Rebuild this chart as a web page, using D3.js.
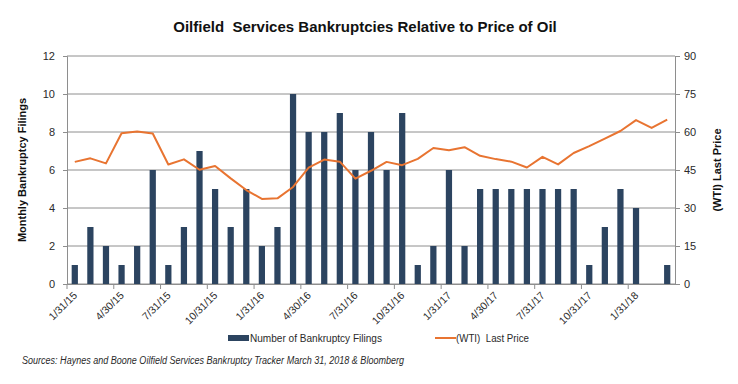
<!DOCTYPE html>
<html>
<head>
<meta charset="utf-8">
<script src="https://cdn.jsdelivr.net/npm/d3@7"></script>
<style>
  body { margin: 0; background: #fff; }
  svg { font-family: "Liberation Sans", Arial, sans-serif; }
</style>
</head>
<body>
<svg id="chart" width="738" height="384"></svg>
<script>
const months = ["1/31/15","2/28/15","3/31/15","4/30/15","5/31/15","6/30/15","7/31/15","8/31/15","9/30/15","10/31/15","11/30/15","12/31/15",
  "1/31/16","2/29/16","3/31/16","4/30/16","5/31/16","6/30/16","7/31/16","8/31/16","9/30/16","10/31/16","11/30/16","12/31/16",
  "1/31/17","2/28/17","3/31/17","4/30/17","5/31/17","6/30/17","7/31/17","8/31/17","9/30/17","10/31/17","11/30/17","12/31/17",
  "1/31/18","2/28/18","3/31/18"];

const filings = [1,3,2,1,2,6,1,3,7,5,3,5,
  2,3,10,8,8,9,6,8,6,9,1,2,
  6,2,5,5,5,5,5,5,5,1,3,5,
  4,0,1];

const wtiPrice = [48.2,49.6,47.6,59.5,60.2,59.4,47.2,49.2,45.1,46.6,41.7,37.1,
  33.6,33.8,38.3,45.9,49.1,48.3,41.6,44.7,48.2,46.9,49.4,53.7,
  52.8,54.0,50.6,49.3,48.3,46.0,50.2,47.2,51.7,54.4,57.4,60.4,
  64.7,61.6,64.9];

const leftTicks = [0,2,4,6,8,10,12];
const rightTicks = [0,15,30,45,60,75,90];

const barColor = "#2c4460",
      lineColor = "#e87431",
      gridColor = "#8e8e8e",
      textColor = "#2a2a2a";

const L = 67, R = 675, T = 56, B = 284;

const svg = d3.select("#chart");

const x = d3.scaleBand()
  .domain(d3.range(months.length))
  .range([L, R])
  .paddingInner(0.6)
  .paddingOuter(0.3);

const step = x.step(),
      cx = i => x(i) + x.bandwidth() / 2;

const yL = d3.scaleLinear().domain([0, 12]).range([B, T]);
const yR = d3.scaleLinear().domain([0, 90]).range([B, T]);

// gridlines
svg.append("g")
  .selectAll("line")
  .data(leftTicks)
  .join("line")
  .attr("x1", L).attr("x2", R)
  .attr("y1", d => yL(d)).attr("y2", d => yL(d))
  .attr("stroke", gridColor)
  .attr("stroke-width", 1);

// left axis
const gL = svg.append("g")
  .attr("transform", `translate(${L},0)`)
  .call(d3.axisLeft(yL).tickValues(leftTicks).tickSize(4).tickPadding(8));
gL.select(".domain").attr("stroke", gridColor);
gL.selectAll(".tick line").attr("stroke", gridColor);
gL.selectAll(".tick text")
  .attr("font-size", 11)
  .attr("fill", textColor)
  .style("font-family", "Liberation Sans, Arial, sans-serif");

// right axis
const gR = svg.append("g")
  .attr("transform", `translate(${R},0)`)
  .call(d3.axisRight(yR).tickValues(rightTicks).tickSize(5).tickPadding(4));
gR.select(".domain").attr("stroke", gridColor);
gR.selectAll(".tick line").attr("stroke", gridColor);
gR.selectAll(".tick text")
  .attr("font-size", 11)
  .attr("fill", textColor)
  .style("font-family", "Liberation Sans, Arial, sans-serif");

// bars
svg.append("g")
  .selectAll("rect")
  .data(filings)
  .join("rect")
  .attr("x", (d, i) => x(i))
  .attr("width", x.bandwidth())
  .attr("y", d => yL(d))
  .attr("height", d => B - yL(d))
  .attr("fill", barColor);

// bottom axis
const gB = svg.append("g")
  .attr("transform", `translate(0,${B})`)
  .call(d3.axisBottom(x)
    .tickValues(d3.range(0, months.length, 3))
    .tickFormat(i => months[i])
    .tickSize(0)
    .tickSizeOuter(0));
gB.select(".domain").attr("stroke", gridColor);
gB.selectAll(".tick")
  .append("line")
  .attr("x1", -step / 2).attr("x2", -step / 2)
  .attr("y1", 0).attr("y2", 5)
  .attr("stroke", gridColor);
gB.selectAll(".tick text")
  .attr("font-size", 10.5)
  .attr("fill", textColor)
  .style("font-family", "Liberation Sans, Arial, sans-serif")
  .attr("text-anchor", "end")
  .attr("dy", null)
  .attr("y", 0)
  .attr("transform", "translate(3,12) rotate(-45)");

// oil price line
svg.append("path")
  .datum(wtiPrice)
  .attr("fill", "none")
  .attr("stroke", lineColor)
  .attr("stroke-width", 2)
  .attr("stroke-linejoin", "round")
  .attr("d", d3.line().x((d, i) => cx(i)).y(d => yR(d)));

// title
svg.append("text")
  .attr("x", 365).attr("y", 32)
  .attr("text-anchor", "middle")
  .attr("font-size", 15)
  .attr("font-weight", "bold")
  .attr("fill", "#111")
  .attr("xml:space", "preserve")
  .text("Oilfield  Services Bankruptcies Relative to Price of Oil");

// axis titles
svg.append("text")
  .attr("transform", `translate(26,${(T + B) / 2}) rotate(-90)`)
  .attr("text-anchor", "middle")
  .attr("font-size", 11)
  .attr("font-weight", "bold")
  .attr("fill", "#111")
  .text("Monthly Bankruptcy Filings");

svg.append("text")
  .attr("transform", `translate(721,${(T + B) / 2}) rotate(-90)`)
  .attr("text-anchor", "middle")
  .attr("font-size", 11)
  .attr("font-weight", "bold")
  .attr("fill", "#111")
  .text("(WTI) Last Price");

// legend
const leg = svg.append("g").attr("font-size", 11).attr("fill", textColor);
leg.append("rect").attr("x", 228).attr("y", 335).attr("width", 21).attr("height", 6).attr("fill", barColor);
leg.append("text").attr("x", 250).attr("y", 342).attr("textLength", 132).attr("lengthAdjust", "spacingAndGlyphs")
  .text("Number of Bankruptcy Filings");
leg.append("line").attr("x1", 435).attr("x2", 456).attr("y1", 338).attr("y2", 338)
  .attr("stroke", lineColor).attr("stroke-width", 2);
leg.append("text").attr("x", 456).attr("y", 342).attr("textLength", 73).attr("lengthAdjust", "spacingAndGlyphs")
  .attr("xml:space", "preserve")
  .text("(WTI)  Last Price");

// source note
svg.append("text")
  .attr("x", 22).attr("y", 364)
  .attr("font-size", 10)
  .attr("font-style", "italic")
  .attr("fill", textColor)
  .attr("textLength", 382)
  .attr("lengthAdjust", "spacingAndGlyphs")
  .text("Sources: Haynes and Boone Oilfield Services Bankruptcy Tracker March 31, 2018 & Bloomberg");
</script>
</body>
</html>
